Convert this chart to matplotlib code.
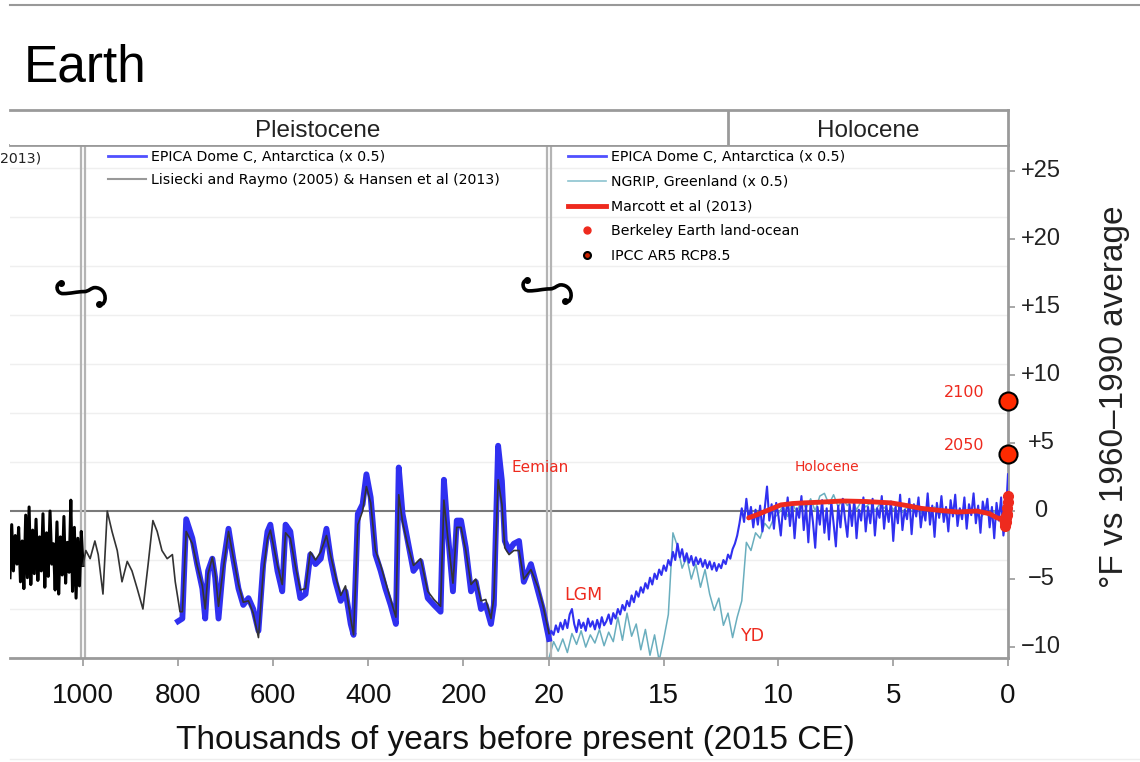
import numpy as np
import matplotlib
matplotlib.use("Agg")
import matplotlib.pyplot as plt
import matplotlib.transforms as mtransforms
from matplotlib.lines import Line2D
from matplotlib.path import Path
from matplotlib.patches import PathPatch

plt.rcParams['font.family'] = ['Liberation Sans', 'DejaVu Sans']
NARROW = ['Liberation Sans Narrow', 'Liberation Sans', 'DejaVu Sans']

# ---- data: °F vs 1960-1990 average, age in thousands of years before 2015 ----
# Lisiecki & Raymo / Hansen, older part (left of the 1000 kyr break)
lr_old_age = [1600, 1586, 1572, 1557, 1543, 1529, 1514, 1500, 1486, 1471,
              1457, 1443, 1429, 1414, 1400, 1386, 1371, 1357, 1343, 1329,
              1314, 1300, 1286, 1271, 1257, 1243, 1229, 1214, 1200, 1186,
              1171, 1157, 1143, 1129, 1114, 1100, 1086, 1071, 1057, 1043,
              1029, 1014, 1000]
lr_old_temp = [-4.9, -1.0, -4.4, -1.8, -3.9, -1.2, -5.2, -2.2, -5.7, -0.3,
               -4.9, 0.3, -5.4, -1.4, -4.6, -0.6, -5.1, -1.9, -4.4, -0.2,
               -5.6, -1.6, -4.8, 0.0, -3.9, -2.4, -5.8, -0.8, -6.1, -1.9,
               -4.7, -0.4, -5.3, -2.3, -4.5, 0.8, -5.9, -1.2, -6.4, -2.0,
               -5.5, -1.5, -4.0]

# Lisiecki & Raymo / Hansen, 1000 -> 20 kyr
lr_age = [1000, 994, 985, 975, 968, 958, 949, 939, 928, 918,
          907, 897, 886, 874, 863, 853, 844, 834, 823, 812,
          806, 796, 791, 783, 770, 760, 749, 743, 737, 728,
          722, 715, 705, 694, 684, 673, 663, 652, 642, 631,
          621, 612, 606, 591, 581, 574, 564, 553, 543, 532,
          522, 511, 500, 488, 479, 469, 458, 448, 437, 431,
          422, 412, 404, 395, 385, 374, 364, 353, 342, 336,
          328, 317, 305, 290, 275, 262, 248, 241, 233, 222,
          214, 205, 195, 184, 174, 163, 153, 142, 136, 127,
          119, 113, 104, 94, 83, 73, 58, 43, 33, 20]
lr_temp = [-4.0, -2.9, -3.5, -2.2, -3.2, -6.1, 0.0, -1.5, -2.9, -5.2,
           -3.7, -4.4, -5.7, -7.2, -3.9, -0.7, -1.5, -2.9, -3.5, -3.2,
           -5.2, -7.4, -7.4, -1.5, -2.4, -4.0, -5.5, -7.2, -4.6, -3.4,
           -4.6, -7.0, -4.2, -1.5, -3.4, -5.4, -6.7, -6.6, -7.5, -9.3,
           -4.5, -2.0, -1.4, -4.0, -5.4, -1.6, -2.0, -4.1, -5.8, -5.7,
           -3.0, -3.6, -3.0, -1.8, -3.3, -4.8, -6.2, -5.5, -7.9, -9.1,
           -1.0, 0.0, 1.8, 0.6, -2.9, -4.0, -5.2, -6.5, -7.8, 1.2,
           -0.8, -2.5, -4.0, -3.5, -5.9, -6.5, -7.0, 0.8, -1.9, -5.3,
           -1.2, -1.2, -2.9, -5.4, -5.0, -6.6, -6.5, -7.9, -6.4, 2.3,
           0.5, -2.7, -3.2, -2.9, -2.9, -5.0, -4.3, -5.6, -6.9, -9.0]

# EPICA Dome C (x 0.5), 800 -> 20 kyr
epica_age = [800, 791, 783, 770, 760, 749, 743, 737, 728, 722,
             715, 705, 694, 684, 673, 663, 652, 642, 631, 621,
             612, 606, 591, 581, 574, 564, 553, 543, 532, 522,
             511, 500, 488, 479, 469, 458, 448, 437, 431, 422,
             412, 404, 395, 385, 374, 364, 353, 342, 336, 328,
             317, 305, 290, 275, 262, 248, 241, 233, 222, 214,
             205, 195, 184, 174, 163, 153, 142, 136, 127, 119,
             113, 104, 94, 83, 73, 58, 43, 33, 20]
epica_temp = [-8.1, -7.9, -0.6, -2.0, -3.9, -5.7, -7.9, -4.4, -3.5, -4.9,
              -7.9, -3.9, -1.3, -3.5, -5.7, -6.9, -6.4, -7.2, -8.8, -3.9,
              -1.5, -1.0, -4.4, -5.9, -1.0, -1.5, -4.4, -6.4, -6.1, -3.2,
              -3.9, -3.5, -1.3, -3.5, -5.2, -6.6, -5.9, -8.3, -9.1, -0.2,
              0.5, 2.7, 1.0, -3.2, -4.4, -5.7, -6.9, -8.3, 3.2, -0.2,
              -2.2, -4.4, -3.7, -6.4, -6.9, -7.4, 2.3, -1.5, -5.9, -0.7,
              -0.7, -2.7, -5.9, -5.2, -7.2, -6.9, -8.3, -6.9, 4.8, 2.2,
              -2.2, -2.9, -2.4, -2.2, -5.2, -3.9, -5.9, -7.2, -9.4]

# EPICA Dome C (x 0.5), 20 -> 0 kyr, every 0.1 kyr
holo_age = np.round(np.arange(200, -1, -1) / 10, 1)
holo_epica = [-9.4, -8.8, -9.1, -8.4, -8.9, -8.2, -8.7, -8.0, -8.6, -7.6, -7.2,
              -8.3, -8.9, -8.0, -8.6, -8.2, -8.8, -7.9, -8.5, -8.1, -8.7,
              -8.0, -8.6, -7.8, -8.4, -8.1, -7.6, -8.3, -7.5, -7.9, -7.2,
              -7.6, -6.9, -7.3, -6.6, -7.0, -6.2, -6.7, -5.9, -6.3, -5.6,
              -6.0, -5.3, -5.7, -4.9, -5.4, -4.6, -5.0, -4.3, -4.7, -4.0,
              -4.4, -3.6, -4.0, -3.0, -3.6, -2.4, -3.4, -2.8, -3.7, -3.1,
              -3.8, -3.3, -4.0, -3.4, -3.9, -3.5, -4.1, -3.6, -4.2, -3.7,
              -4.3, -3.8, -4.4, -3.9, -4.2, -3.6, -3.9, -3.2, -3.5, -2.8,
              -2.4, -1.8, -0.9, 0.2, -0.8, 0.9, -0.6, 0.3, -1.2, 0.1,
              -1.0, 0.4, -1.5, 0.2, 1.8, -0.7, 0.5, -1.3, 0.6, -0.4,
              -1.8, 0.3, -0.6, 1.0, -1.1, 0.5, -2.0, 0.2, -0.5, 1.1,
              -1.4, 0.4, -2.3, 0.6, -0.8, -2.7, 0.3, -1.0, 0.8, -1.6,
              0.2, -2.1, 0.7, -0.9, -2.6, 0.4, -1.2, 0.9, -0.6, -1.9,
              0.5, -1.1, 0.8, -2.0, 0.1, -0.7, 1.0, -1.5, 0.3, -0.9,
              0.9, -1.8, 0.2, -0.5, 1.1, -1.3, 0.4, -0.8, 0.7, -2.2,
              0.3, -0.9, 1.2, -1.4, 0.1, -0.6, 0.9, -1.7, 0.5, -0.4,
              1.0, -1.2, 0.2, -0.7, 1.3, -1.0, 0.4, -1.9, 0.6, -0.5,
              1.1, -0.8, 0.3, -1.5, 0.8, -0.4, 1.2, -1.1, 0.2, -0.6,
              1.0, -1.3, 0.5, -0.3, 1.3, -0.9, 0.4, -1.6, 0.7, -0.2,
              0.9, -1.2, 0.3, -2.0, 0.6, -0.7, 1.0, -1.8, -0.5, 2.7]

# NGRIP Greenland (x 0.5), every 0.2 kyr
ngrip_age = np.round(np.arange(100, -1, -1) / 5, 1)
ngrip_temp = [-10.8, -9.6, -10.3, -9.4, -10.4, -9.0, -9.8, -8.8, -10.0, -9.1,
              -9.7, -8.7, -9.9, -8.9, -9.6, -7.8, -9.5, -7.5, -9.2, -8.3,
              -10.2, -8.7, -10.6, -9.1, -11.0, -9.4, -7.6, -1.6, -2.6, -4.2,
              -3.4, -5.0, -3.9, -5.6, -4.3, -6.1, -7.3, -6.4, -8.4, -7.5,
              -9.3, -7.8, -6.6, -2.3, -2.9, -1.6, -2.0, -0.9, -1.3, -0.5,
              -0.2, 0.4, -0.4, 0.6, -0.1, 0.8, 0.2, 0.9, 0.0, 1.1,
              1.3, 0.5, 1.2, 0.3, 0.9, 0.4, 0.8, 0.1, 0.7, 0.3,
              0.6, 0.0, 0.5, 0.2, 0.6, 0.1, 0.4, -0.1, 0.3, 0.0,
              0.4, -0.2, 0.2, -0.1, 0.3, -0.3, 0.1, -0.2, 0.2, -0.4,
              0.0, -0.3, 0.1, -0.2, -0.5, -0.1, -0.4, 0.0, -0.6, -0.2,
              -0.3]

# Marcott et al (2013)
marcott_age = [11.3, 10.9, 10.4, 9.9, 9.4, 8.9, 8.2, 7.2, 6.2, 5.1,
               4.4, 3.8, 3.0, 2.2, 1.35, 0.8, 0.48, 0.2]
marcott_temp = [-0.5, -0.25, 0.1, 0.45, 0.55, 0.6, 0.65, 0.74, 0.7, 0.6,
                0.4, 0.2, 0.05, -0.07, 0.0, -0.2, -0.5, -0.6]

# Berkeley Earth land-ocean (1850-2015)
berkeley_age = [0.165, 0.15, 0.135, 0.12, 0.105, 0.09, 0.075, 0.06, 0.045, 0.03, 0.015, 0.0]
berkeley_temp = [-0.6, -0.9, -0.7, -1.1, -0.8, -0.5, -0.4, -0.2, -0.3, 0.2, 0.7, 1.1]

# IPCC AR5 RCP8.5 projections
ipcc_year = ["2050", "2100"]
ipcc_age = [0.0, 0.0]
ipcc_temp = [4.2, 8.1]

# axis pieces
seg_age = [0, 20, 1000, 1600]
seg_px = [0, 459, 925, 998]
xtick_age = [1000, 800, 600, 400, 200, 20, 15, 10, 5, 0]
ytick_val = [-10, -5, 0, 5, 10, 15, 20, 25]
ytick_lab = ["\u221210", "\u22125", "0", "+5", "+10", "+15", "+20", "+25"]
grid_c = [-6, -4, -2, 2, 4, 6, 8, 10, 12, 14]   # °C gridlines
eras = ["Pleistocene", "Holocene"]
era_mid = [506, 6.1]
era_split = 12.2

BLUE = '#3030f0'
TEAL = '#6aaebe'
RED = '#ee2a1e'
GRAY = '#9a9a9a'

W, H = 1140, 762
def fx(px): return px / W
def fy(py): return 1 - py / H

fig = plt.figure(figsize=(W / 100, H / 100), dpi=100)
ax = fig.add_axes([fx(10), fy(658), fx(1008) - fx(10), fy(145) - fy(658)])
band = fig.add_axes([fx(10), fy(145), fx(1008) - fx(10), fy(110) - fy(145)], sharex=ax)

ax.set_xscale('function', functions=(lambda a: np.interp(a, seg_age, seg_px),
                                     lambda p: np.interp(p, seg_px, seg_age)))

# gridlines and zero line
for c in grid_c:
    ax.axhline(c * 1.8, color='#efefef', lw=1, zorder=0)
ax.axhline(0, color='#7a7a7a', lw=1.5, zorder=1.5)

# series
ax.plot(ngrip_age, ngrip_temp, color=TEAL, lw=1.1, zorder=2)
ax.plot(epica_age, epica_temp, color=BLUE, lw=4.2, zorder=3, solid_joinstyle='round')
ax.plot(holo_age, holo_epica, color=BLUE, lw=1.5, zorder=3)
ax.plot(lr_old_age, lr_old_temp, color='black', lw=2.2, zorder=4)
ax.plot(lr_age, lr_temp, color='#333333', lw=1.2, zorder=4)
ax.plot(marcott_age, marcott_temp, color=RED, lw=3.5, zorder=5, solid_capstyle='round')
ax.plot(berkeley_age, berkeley_temp, 'o', color=RED, ms=7, zorder=6, clip_on=False)
ax.plot(ipcc_age, ipcc_temp, 'o', mfc='#ff2a00', mec='black', mew=1.5, ms=13,
        zorder=7, clip_on=False)

# double break lines
for a in (1000, 20):
    for off in (-2.3, 2.3):
        tr = ax.get_xaxis_transform() + mtransforms.ScaledTranslation(off / 100, 0, fig.dpi_scale_trans)
        ax.plot([a, a], [0, 1], transform=tr, color='#b4b4b4', lw=1.6, zorder=2.5)

# break symbols
verts = [(-22, 8), (-28, 7), (-27, -3), (-20, -3), (-12, -3), (-6, -1), (1, -1),
         (6, -1), (8, 3), (12, 3), (18, 3), (23, -2), (22, -9), (21, -14), (18, -15), (16, -13)]
codes = [Path.MOVETO] + [Path.CURVE4] * 15
brk_path = Path([(vx / 100, vy / 100) for vx, vy in verts], codes)
for a, yv in ((1000, 16.2), (20, 16.4)):
    tr = fig.dpi_scale_trans + mtransforms.ScaledTranslation(a, yv, ax.transData)
    ax.add_patch(PathPatch(brk_path, transform=tr, fill=False, lw=2.6, color='black', clip_on=False, zorder=6))
    ax.plot([-0.22, 0.16], [0.08, -0.13], 'o', ms=4, color='black', transform=tr, clip_on=False, zorder=6)

# annotations
ax.text(39, 3.2, "Eemian", color=RED, fontsize=11, family='DejaVu Sans', ha='center', va='center')
ax.text(18.5, -6.2, "LGM", color=RED, fontsize=12.5, family='DejaVu Sans', ha='center', va='center')
ax.text(11.1, -9.2, "YD", color=RED, fontsize=12.5, family='DejaVu Sans', ha='center', va='center')
ax.text(7.9, 3.2, "Holocene", color=RED, fontsize=10, family='DejaVu Sans', ha='center', va='center')
for yr, t in zip(ipcc_year, ipcc_temp):
    ax.text(1.9, t + 0.6, yr, color=RED, fontsize=11.5, family='DejaVu Sans', ha='center', va='center')

# axes styling
ax.set_xlim(1600, 0)
ax.set_ylim(-10.8, 26.9)
ax.yaxis.tick_right()
ax.set_yticks(ytick_val)
ax.set_yticklabels([])
ytrans = mtransforms.blended_transform_factory(ax.transAxes, ax.transData)
for v, lab in zip(ytick_val, ytick_lab):
    ax.text(1 + 33 / 998, v, lab, transform=ytrans, ha='center', va='center',
            fontsize=17, color='#222222', clip_on=False)
ax.set_xticks(xtick_age)
ax.set_xticklabels([str(a) for a in xtick_age])
ax.tick_params(axis='y', direction='out', length=5, width=1.2, color=GRAY)
ax.tick_params(axis='x', direction='out', length=6, width=1.2, color=GRAY, pad=12,
               labelsize=20, labelcolor='#111111')
for lbl in ax.get_xticklabels():
    lbl.set_fontfamily(NARROW)
ax.spines['left'].set_visible(False)
for s in ('right', 'bottom', 'top'):
    ax.spines[s].set_color(GRAY)
    ax.spines[s].set_linewidth(2)

# era band
band.set_ylim(0, 1)
band.tick_params(bottom=False, labelbottom=False, left=False, labelleft=False)
band.spines['left'].set_visible(False)
band.spines['bottom'].set_visible(False)
for s in ('right', 'top'):
    band.spines[s].set_color(GRAY)
    band.spines[s].set_linewidth(2)
band.axvline(era_split, color=GRAY, lw=2)
for name, m in zip(eras, era_mid):
    band.text(m, 0.23, name, ha='center', va='baseline', fontsize=17.5, color='#222222')

# legends
h_epica = Line2D([], [], color='#5050ff', lw=2)
h_lr = Line2D([], [], color='#999999', lw=1.5)
h_ngrip = Line2D([], [], color='#8cc3cf', lw=1.2)
h_marc = Line2D([], [], color=RED, lw=3.5)
h_berk = Line2D([], [], ls='none', marker='o', color=RED, ms=5)
h_ipcc = Line2D([], [], ls='none', marker='o', mfc='#cc2200', mec='black', mew=1.5, ms=5)
kw = dict(loc='upper left', bbox_transform=fig.transFigure, frameon=False,
          prop={'family': 'DejaVu Sans', 'size': 10.2}, handlelength=2.7,
          handletextpad=0.35, borderpad=0, borderaxespad=0)
leg2 = ax.legend([h_epica, h_lr], ["EPICA Dome C, Antarctica (x 0.5)",
                                   "Lisiecki and Raymo (2005) & Hansen et al (2013)"],
                 bbox_to_anchor=(fx(108), fy(150)), labelspacing=0.62, **kw)
ax.add_artist(leg2)
ax.legend([h_epica, h_ngrip, h_marc, h_berk, h_ipcc],
          ["EPICA Dome C, Antarctica (x 0.5)", "NGRIP, Greenland (x 0.5)",
           "Marcott et al (2013)", "Berkeley Earth land-ocean", "IPCC AR5 RCP8.5"],
          bbox_to_anchor=(fx(568), fy(150)), labelspacing=0.76, **kw)
fig.text(fx(41), fy(162), "2013)", ha='right', va='baseline', family='DejaVu Sans',
         fontsize=10.2, color='#222222')

# titles and labels
fig.text(fx(146), fy(82), "Earth", ha='right', va='baseline', fontsize=37, color='black')
fig.text(fx(515), fy(741), "Thousands of years before present (2015 CE)", ha='center', va='center',
         fontsize=24, family=NARROW, color='#111111')
fig.text(fx(1114), fy(397), "°F vs 1960\u20131990 average", rotation=90, ha='center', va='center',
         fontsize=24, color='#222222')

fig.add_artist(Line2D([fx(10), 1], [fy(5), fy(5)], color='#999999', lw=1.5))
fig.add_artist(Line2D([fx(10), 1], [fy(759), fy(759)], color='#eeeeee', lw=1))

fig.savefig("out.png", dpi=100)
